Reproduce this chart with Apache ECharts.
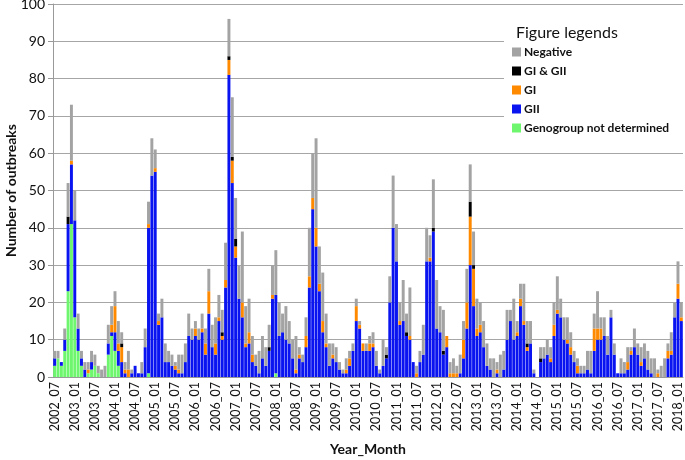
<!DOCTYPE html>
<html>
<head>
<meta charset="utf-8">
<script src="https://cdn.jsdelivr.net/npm/echarts@6/dist/echarts.min.js"></script>
<style>
  html, body { margin: 0; padding: 0; background: #fff; }
  #chart { width: 685px; height: 460px; }
</style>
</head>
<body>
<div id="chart"></div>
<script>
// months 2002_07 .. 2018_02
var months = []
for (var y = 2002, m = 7; y < 2018 || m <= 2; m++) {
  if (m > 12) { m = 1; y++ }
  months.push(y + '_' + (m < 10 ? '0' + m : m))
}

// one row = 12 months, first row starts 2002_07
var notDetermined = [
  3, 5, 3, 7, 23, 41, 16, 7, 3, 0, 1, 2,
  3, 1, 0, 0, 6, 11, 7, 3, 0, 0, 0, 0,
  0, 0, 0, 0, 1, 0, 0, 0, 0, 0, 0, 0,
  0, 0, 0, 0, 0, 0, 0, 0, 0, 0, 0, 0,
  0, 0, 0, 0, 0, 0, 0, 0, 0, 0, 0, 0,
  0, 0, 0, 0, 0, 0, 1, 0, 0, 0, 0, 0,
  0, 0, 0, 0, 0, 0, 0, 0, 0, 0, 0, 0,
  0, 0, 0, 0, 0, 0, 0, 0, 0, 0, 0, 0,
  0, 0, 0, 0, 0, 0, 0, 0, 0, 0, 0, 0,
  0, 0, 0, 0, 0, 0, 0, 0, 0, 0, 0, 0,
  0, 0, 0, 0, 0, 0, 0, 0, 0, 0, 0, 0,
  0, 0, 0, 0, 0, 0, 0, 0, 0, 0, 0, 0,
  0, 0, 0, 0, 0, 0, 0, 0, 0, 0, 0, 0,
  0, 0, 0, 0, 0, 0, 0, 0, 0, 0, 0, 0,
  0, 0, 0, 0, 0, 0, 0, 0, 0, 0, 0, 0,
  0, 0, 0, 0, 0, 0, 0, 0
]
var gii = [
  2, 0, 1, 3, 18, 16, 26, 6, 2, 2, 0, 2,
  0, 0, 0, 0, 3, 1, 5, 4, 4, 1, 0, 1,
  3, 1, 1, 8, 39, 54, 55, 14, 16, 4, 4, 3,
  2, 1, 1, 4, 11, 10, 11, 10, 12, 6, 17, 8,
  6, 15, 10, 24, 81, 52, 32, 21, 16, 8, 9, 4,
  3, 1, 5, 3, 7, 21, 21, 11, 12, 10, 9, 5,
  1, 5, 4, 8, 24, 45, 35, 23, 12, 8, 3, 5,
  4, 2, 1, 1, 3, 7, 15, 13, 7, 7, 7, 8,
  3, 1, 3, 5, 20, 40, 31, 14, 15, 11, 10, 4,
  0, 4, 6, 31, 31, 39, 13, 12, 6, 8, 0, 0,
  0, 1, 5, 13, 30, 19, 11, 12, 8, 3, 2, 0,
  1, 0, 2, 10, 15, 10, 11, 19, 14, 7, 9, 1,
  0, 4, 5, 6, 4, 11, 17, 16, 10, 9, 6, 4,
  1, 1, 1, 2, 1, 7, 10, 10, 11, 6, 16, 6,
  1, 1, 1, 2, 6, 8, 6, 3, 5, 2, 1, 0,
  0, 0, 0, 5, 6, 16, 21, 15
]
var gi = [
  0, 0, 0, 0, 0, 1, 0, 0, 0, 0, 1, 0,
  0, 0, 0, 0, 0, 2, 7, 2, 4, 1, 2, 0,
  0, 0, 0, 0, 1, 0, 1, 1, 0, 0, 0, 0,
  1, 1, 0, 0, 0, 0, 2, 0, 1, 3, 6, 0,
  3, 1, 1, 2, 4, 6, 3, 0, 4, 1, 3, 2,
  0, 0, 0, 0, 0, 1, 0, 0, 0, 0, 0, 0,
  1, 1, 0, 3, 3, 3, 5, 2, 3, 1, 0, 1,
  0, 0, 0, 1, 2, 0, 4, 1, 2, 0, 2, 1,
  0, 0, 0, 0, 0, 0, 0, 1, 0, 0, 1, 0,
  1, 0, 0, 0, 1, 0, 0, 0, 0, 3, 1, 1,
  1, 0, 5, 7, 13, 10, 2, 2, 0, 0, 0, 0,
  1, 0, 0, 0, 0, 0, 1, 2, 1, 1, 0, 0,
  0, 0, 0, 0, 1, 3, 1, 0, 0, 1, 2, 0,
  2, 0, 0, 0, 0, 6, 3, 3, 0, 0, 0, 0,
  0, 0, 0, 2, 1, 0, 0, 1, 0, 0, 0, 0,
  1, 0, 0, 2, 1, 0, 4, 1
]
var giGii = [
  0, 0, 0, 0, 2, 0, 0, 0, 0, 0, 0, 0,
  0, 0, 0, 0, 0, 0, 0, 0, 1, 0, 0, 0,
  0, 0, 0, 0, 0, 0, 0, 0, 0, 0, 0, 0,
  0, 0, 0, 0, 0, 0, 0, 0, 0, 0, 0, 0,
  0, 0, 1, 0, 1, 1, 2, 0, 0, 0, 0, 0,
  0, 0, 0, 0, 1, 0, 0, 0, 0, 0, 0, 0,
  0, 0, 0, 0, 0, 0, 0, 0, 0, 0, 0, 0,
  0, 0, 0, 0, 0, 0, 0, 0, 0, 0, 0, 0,
  0, 0, 0, 1, 0, 0, 0, 0, 0, 1, 0, 0,
  0, 0, 0, 0, 0, 1, 0, 0, 1, 0, 0, 0,
  0, 0, 0, 0, 4, 1, 0, 0, 0, 0, 0, 0,
  0, 0, 0, 0, 0, 0, 0, 0, 0, 1, 0, 0,
  0, 1, 0, 0, 0, 0, 0, 0, 0, 0, 0, 0,
  0, 0, 0, 0, 0, 0, 0, 0, 0, 0, 0, 0,
  0, 0, 0, 0, 0, 0, 0, 0, 0, 0, 0, 0,
  0, 0, 0, 0, 0, 0, 0, 0
]
var negative = [
  2, 2, 0, 3, 9, 15, 8, 4, 2, 2, 2, 3,
  3, 2, 2, 3, 5, 5, 4, 6, 3, 2, 5, 1,
  0, 0, 3, 5, 6, 10, 5, 2, 5, 5, 3, 3,
  1, 4, 5, 5, 6, 3, 2, 3, 4, 4, 6, 6,
  7, 6, 6, 10, 10, 16, 11, 9, 19, 10, 9, 5,
  3, 6, 6, 5, 6, 8, 12, 9, 5, 9, 6, 5,
  9, 2, 2, 5, 13, 12, 24, 10, 13, 8, 6, 3,
  4, 2, 1, 3, 2, 2, 2, 1, 0, 2, 2, 3,
  4, 1, 7, 2, 7, 14, 10, 5, 11, 5, 13, 0,
  2, 3, 8, 9, 6, 13, 13, 7, 11, 0, 3, 4,
  2, 5, 5, 9, 10, 9, 8, 6, 7, 6, 3, 5,
  2, 6, 5, 8, 3, 11, 3, 4, 10, 6, 6, 1,
  0, 3, 3, 4, 3, 6, 9, 5, 6, 6, 4, 3,
  2, 2, 2, 5, 6, 4, 10, 3, 5, 5, 2, 3,
  0, 4, 3, 4, 1, 5, 3, 4, 4, 5, 4, 5,
  1, 3, 5, 2, 5, 4, 6, 4
]

var font = 'Lato, "Open Sans", sans-serif'
var chart = echarts.init(document.getElementById('chart'))

function bar(name, data, color) {
  return {
    name: name,
    type: 'bar',
    stack: 'total',
    data: data,
    barCategoryGap: '12%',
    itemStyle: { color: color }
  }
}

chart.setOption({
  animation: false,
  textStyle: { fontFamily: font },
  title: {
    text: 'Figure legends',
    left: 511,
    top: 20,
    z: 20,
    textStyle: { fontFamily: font, fontSize: 16, fontWeight: 'normal', color: '#111' }
  },
  legend: {
    orient: 'vertical',
    left: 504,
    top: 20,
    z: 10,
    padding: [26, 32, 4, 8],
    backgroundColor: '#fff',
    itemWidth: 9,
    itemHeight: 9,
    itemGap: 7,
    icon: 'rect',
    textStyle: { fontFamily: font, fontSize: 12, fontWeight: 'bold', color: '#111', padding: [0, 0, 0, -2] },
    data: ['Negative', 'GI & GII', 'GI', 'GII', 'Genogroup not determined']
  },
  grid: { left: 53, right: 2, top: 4, bottom: 83, outerBoundsMode: 'none' },
  xAxis: {
    type: 'category',
    data: months,
    name: 'Year_Month',
    nameLocation: 'middle',
    nameGap: 65,
    nameTextStyle: { fontFamily: font, fontSize: 14, fontWeight: 'bold', color: '#111' },
    axisLine: { lineStyle: { color: '#999' } },
    axisTick: { interval: 0, length: 3, lineStyle: { color: '#999' } },
    axisLabel: { interval: 5, rotate: 90, fontSize: 12.5, color: '#111', margin: 5 }
  },
  yAxis: {
    type: 'value',
    min: 0,
    max: 100,
    interval: 10,
    name: 'Number of outbreaks',
    nameLocation: 'middle',
    nameGap: 35,
    nameMoveOverlap: false,
    nameTextStyle: { fontFamily: font, fontSize: 14, fontWeight: 'bold', color: '#111' },
    axisLine: { show: true, lineStyle: { color: '#999' } },
    axisTick: { show: true, length: 5, lineStyle: { color: '#999' } },
    axisLabel: { fontSize: 14, color: '#111', margin: 8 },
    splitLine: { lineStyle: { color: '#a6a6a6' } }
  },
  series: [
    bar('Genogroup not determined', notDetermined, '#6ef76e'),
    bar('GII', gii, '#0a14f0'),
    bar('GI', gi, '#ff8a00'),
    bar('GI & GII', giGii, '#000000'),
    bar('Negative', negative, '#a3a3a3')
  ]
})
</script>
</body>
</html>
